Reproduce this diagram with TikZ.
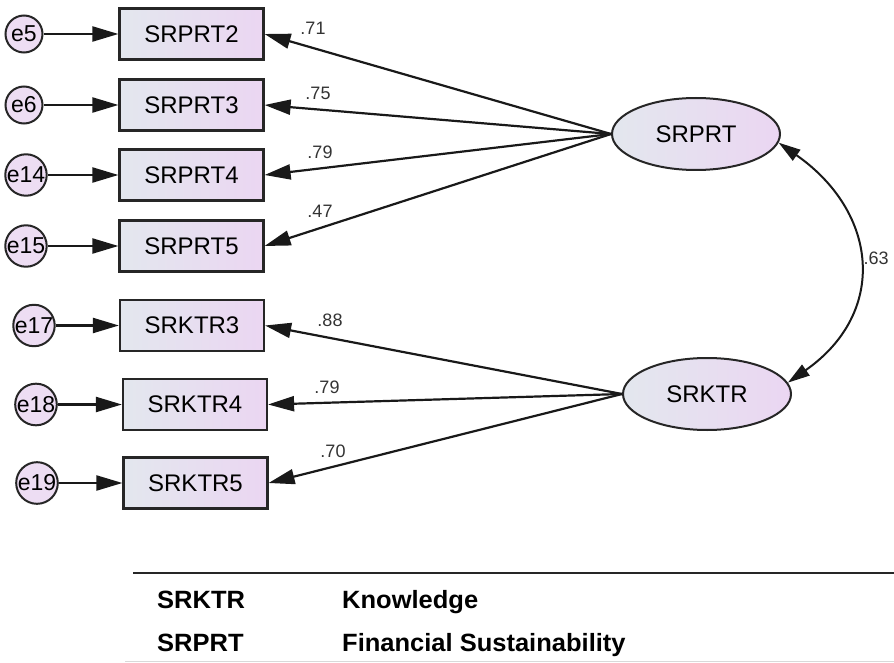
\documentclass[tikz,border=0pt]{standalone}
\usepackage{fontspec}
\setmainfont{Liberation Sans}
\newfontfamily\legendfont{Liberation Sans}[FakeStretch=1.02]
\usetikzlibrary{arrows.meta,shapes.geometric}

\definecolor{shadeleft}{HTML}{E3E7EE}
\definecolor{shaderight}{HTML}{EBD6F2}
\definecolor{errfill}{HTML}{EDDDF3}

\begin{document}
\begin{tikzpicture}[
    x=1pt, y=-1pt,
    every node/.style={font=\fontsize{24}{28}\selectfont},
    obs/.style={rectangle, draw=black!85, line width=2.2pt, left color=shadeleft, right color=shaderight, minimum width=144pt, minimum height=51pt, inner sep=0pt},
    lat/.style={ellipse, draw=black!85, line width=2pt, left color=shadeleft, right color=shaderight, minimum width=168pt, minimum height=72pt, inner sep=0pt},
    err/.style={circle, draw=black!85, line width=2pt, fill=errfill, minimum size=37pt, inner sep=0pt, font=\fontsize{23}{27}\selectfont},
    load/.style={draw=black!90, line width=2.2pt, -{Triangle[length=26pt,width=15pt]}},
    errarrow/.style={draw=black!90, line width=2.2pt, -{Triangle[length=26pt,width=15pt]}},
    covar/.style={draw=black!90, line width=2pt, {Triangle[length=22pt,width=13pt]}-{Triangle[length=22pt,width=13pt]}},
    lbl/.style={font=\fontsize{18}{20}\selectfont, text=black!80, inner sep=0pt},
    key/.style={anchor=base west, inner sep=0pt, font=\legendfont\bfseries\fontsize{25}{29}\selectfont}
]
\useasboundingbox (0,0) rectangle (894,663);

% latent variables
\node[lat] (srprt) at (696,134) {SRPRT};
\node[lat] (srktr) at (707,394) {SRKTR};

% indicators
\node[obs] (b2) at (191.5,34) {SRPRT2};
\node[obs] (b3) at (191.5,105) {SRPRT3};
\node[obs] (b4) at (191.5,175) {SRPRT4};
\node[obs] (b5) at (191.5,246) {SRPRT5};
\node[obs] (k3) at (192,325.5) {SRKTR3};
\node[obs] (k4) at (195,404.5) {SRKTR4};
\node[obs] (k5) at (195.5,483) {SRKTR5};

% error terms
\node[err] (e5) at (24,34) {e5};
\node[err] (e6) at (24,105) {e6};
\node[err] (e14) at (26,175) {e14};
\node[err] (e15) at (26,246) {e15};
\node[err] (e17) at (34,325.5) {e17};
\node[err] (e18) at (36,404.5) {e18};
\node[err] (e19) at (37,483) {e19};

\foreach \e/\b in {e5/b2, e6/b3, e14/b4, e15/b5, e17/k3, e18/k4, e19/k5}
    \draw[errarrow] (\e) -- (\b);

\foreach \b in {b2, b3, b4, b5}
    \draw[load] (srprt.west) -- (\b.east);
\foreach \b in {k3, k4, k5}
    \draw[load] (srktr.west) -- (\b.east);

\draw[covar] (srprt.-6) .. controls +(100,70) and +(100,-70) .. (srktr.8);

% loadings
\node[lbl] (l2) at (313,28) {.71};
\node[lbl] (l3) at (318,93) {.75};
\node[lbl] (l4) at (320,152) {.79};
\node[lbl] (l5) at (320,211) {.47};
\node[lbl] (m3) at (330,320) {.88};
\node[lbl] (m4) at (327,387) {.79};
\node[lbl] (m5) at (333,451) {.70};
\node[lbl] (r) at (876,258) {.63};

% key
\draw[line width=1.5pt, black!85] (133,573) -- (894,573);
\draw[line width=1pt, black!15] (125,661) -- (894,661);
\node[key] (k1) at (157,608) {SRKTR};
\node[key] (d1) at (342,608) {Knowledge};
\node[key] (k2) at (157,651) {SRPRT};
\node[key] (d2) at (342,651) {Financial Sustainability};

\end{tikzpicture}
\end{document}
